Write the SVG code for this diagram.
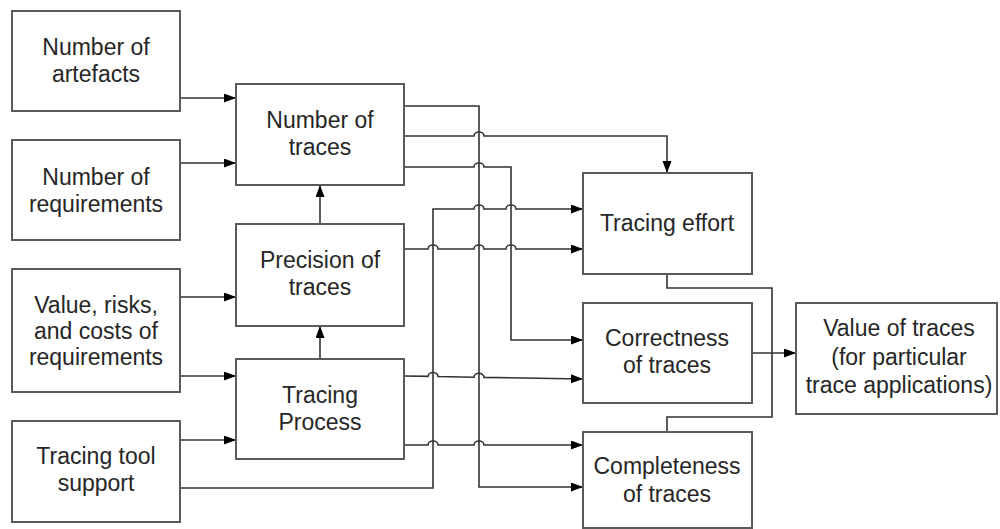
<svg xmlns="http://www.w3.org/2000/svg" width="1000" height="529" viewBox="0 0 1000 529">
  <style>
    .box { fill: #ffffff; stroke: #5a5a5a; stroke-width: 2; }
    .lbl { font-family: "Liberation Sans", Arial, sans-serif; font-size: 23px; fill: #262626; text-anchor: middle; }
    .wire { fill: none; stroke: #333333; stroke-width: 1.6; }
    .arr { marker-end: url(#head); }
  </style>
  <defs>
    <marker id="head" markerUnits="userSpaceOnUse" markerWidth="13" markerHeight="10" refX="12" refY="4.5" orient="auto">
      <path d="M0,0 L12,4.5 L0,9 z" fill="#000000"/>
    </marker>
  </defs>
  <rect width="1000" height="529" fill="#ffffff"/>

  <!-- connectors -->
  <g id="connectors">
    <!-- inputs into the middle column -->
    <path class="wire arr" d="M180,98 H236"/>
    <path class="wire arr" d="M180,163 H236"/>
    <path class="wire arr" d="M180,297 H236"/>
    <path class="wire arr" d="M180,376 H236"/>
    <path class="wire arr" d="M180,440 H236"/>
    <path class="wire arr" d="M320,359 V326"/>
    <path class="wire arr" d="M320,224 V185"/>

    <!-- Number of traces -> Completeness (via x=479) -->
    <path class="wire arr" d="M404,106 H479 V487 H583"/>
    <!-- Number of traces -> Tracing effort (top) -->
    <path class="wire arr" d="M404,136 H474 a5 4 0 0 1 10 0 H667 V173"/>
    <!-- Number of traces -> Correctness (via x=511) -->
    <path class="wire arr" d="M404,167 H474 a5 4 0 0 1 10 0 H511 V340 H583"/>
    <!-- Tracing tool support -> Tracing effort (via x=433) -->
    <path class="wire arr" d="M180,488 H433 V209 H474 a5 4 0 0 1 10 0 H506 a5 4 0 0 1 10 0 H583"/>
    <!-- Precision of traces -> Tracing effort -->
    <path class="wire arr" d="M404,249 H428 a5 4 0 0 1 10 0 H474 a5 4 0 0 1 10 0 H506 a5 4 0 0 1 10 0 H583"/>
    <!-- Tracing Process -> Correctness -->
    <path class="wire arr" d="M404,376 L428,376.4 a5 4 0 0 1 10 0.17 L474,377.2 a5 4 0 0 1 10 0.17 L583,379"/>
    <!-- Tracing Process -> Completeness -->
    <path class="wire arr" d="M404,445 H428 a5 4 0 0 1 10 0 H474 a5 4 0 0 1 10 0 H583"/>
    <!-- Correctness -> Value of traces -->
    <path class="wire arr" d="M752,353 H796"/>
    <!-- Tracing effort / Completeness joined into the value line -->
    <path class="wire" d="M667,274 V288 H772 V417 H667 V432"/>
  </g>

  <!-- left column -->
  <g id="n-artefacts">
    <rect class="box" x="12" y="11" width="168" height="100"/>
    <text class="lbl" x="96" y="55">Number of</text>
    <text class="lbl" x="96" y="82">artefacts</text>
  </g>
  <g id="n-requirements">
    <rect class="box" x="12" y="140" width="168" height="100"/>
    <text class="lbl" x="96" y="185">Number of</text>
    <text class="lbl" x="96" y="212">requirements</text>
  </g>
  <g id="n-value-risks">
    <rect class="box" x="12" y="269" width="168" height="123"/>
    <text class="lbl" x="96" y="313">Value, risks,</text>
    <text class="lbl" x="96" y="339">and costs of</text>
    <text class="lbl" x="96" y="365">requirements</text>
  </g>
  <g id="n-tool-support">
    <rect class="box" x="12" y="421" width="168" height="101"/>
    <text class="lbl" x="96" y="464">Tracing tool</text>
    <text class="lbl" x="96" y="491">support</text>
  </g>

  <!-- middle column -->
  <g id="n-number-traces">
    <rect class="box" x="236" y="84" width="168" height="101"/>
    <text class="lbl" x="320" y="128">Number of</text>
    <text class="lbl" x="320" y="155">traces</text>
  </g>
  <g id="n-precision">
    <rect class="box" x="236" y="224" width="168" height="102"/>
    <text class="lbl" x="320" y="268">Precision of</text>
    <text class="lbl" x="320" y="295">traces</text>
  </g>
  <g id="n-process">
    <rect class="box" x="236" y="359" width="168" height="100"/>
    <text class="lbl" x="320" y="403">Tracing</text>
    <text class="lbl" x="320" y="430">Process</text>
  </g>

  <!-- right column -->
  <g id="n-effort">
    <rect class="box" x="583" y="173" width="169" height="101"/>
    <text class="lbl" x="667" y="231">Tracing effort</text>
  </g>
  <g id="n-correctness">
    <rect class="box" x="583" y="303" width="169" height="100"/>
    <text class="lbl" x="667" y="346">Correctness</text>
    <text class="lbl" x="667" y="373">of traces</text>
  </g>
  <g id="n-completeness">
    <rect class="box" x="583" y="432" width="169" height="96"/>
    <text class="lbl" x="667" y="474">Completeness</text>
    <text class="lbl" x="667" y="502">of traces</text>
  </g>

  <g id="n-value-traces">
    <rect class="box" x="796" y="303" width="201" height="111"/>
    <text class="lbl" x="899" y="336">Value of traces</text>
    <text class="lbl" x="899" y="365">(for particular</text>
    <text class="lbl" x="899" y="393">trace applications)</text>
  </g>
</svg>
